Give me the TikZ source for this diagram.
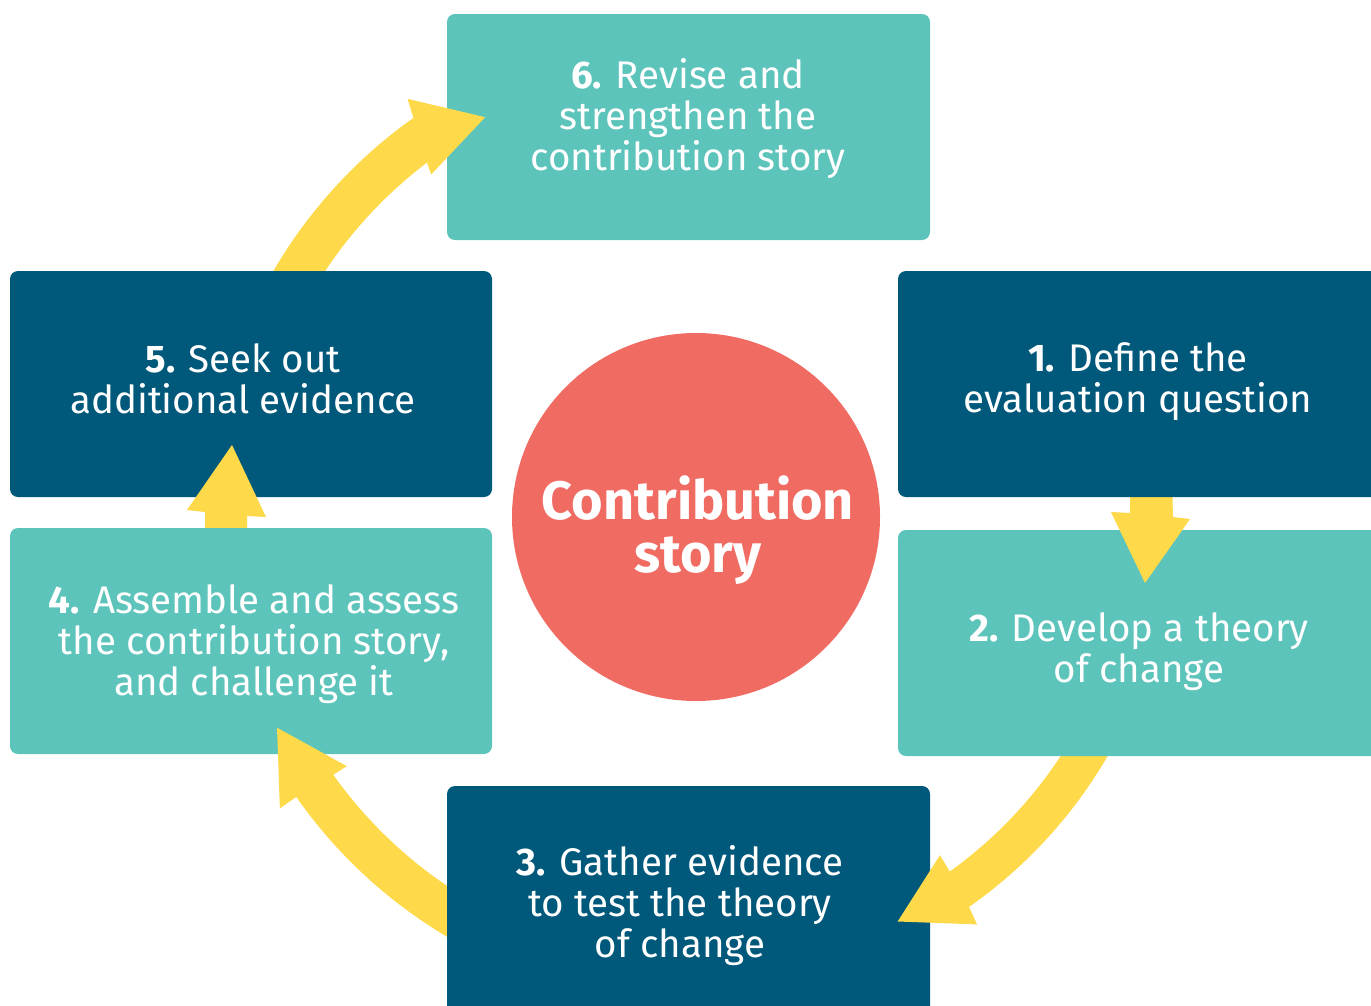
\documentclass[tikz,border=0pt]{standalone}
\usepackage{fontspec}
\setmainfont{Fira Sans}
\definecolor{tealbox}{HTML}{5DC4BB}
\definecolor{navybox}{HTML}{00587B}
\definecolor{coralc}{HTML}{F06B62}
\definecolor{yelarrow}{HTML}{FEDA4B}
\begin{document}
\begin{tikzpicture}[x=1pt,y=-1pt,
  boxshape/.style={rectangle,rounded corners=8pt,inner sep=0pt,outer sep=0pt},
  tealstep/.style={boxshape,fill=tealbox},
  navystep/.style={boxshape,fill=navybox},
  steptext/.style={text=white,align=center,inner sep=0pt,font=\fontsize{38.5}{41}\selectfont},
  bigarrow/.style={fill=yelarrow}]
\useasboundingbox (0,0) rectangle (1371,1005);
\clip (0,0) rectangle (1371,1005);
\coordinate (C) at (696,517);
% box 6
\node[tealstep,minimum width=483pt,minimum height=226pt] (b6) at (688.5,127) {};
% arrow 5 -> 6
\begin{scope}[shift={(C)}]
\fill[bigarrow] (205:489) arc[start angle=205,end angle=234.7,radius=489] -- (235.4:508) -- (242.2:452) -- (232.3:433) -- (232.8:445) arc[start angle=232.8,end angle=205,radius=445] -- cycle;
\end{scope}
% box 5
\node[navystep,minimum width=482pt,minimum height=226pt] (b5) at (251,384) {};
% arrow 4 -> 5
\fill[bigarrow] (205,540) -- (205,512) -- (187,510) -- (232,445) -- (266,517) -- (247,516) -- (247,540) -- cycle;
% box 4
\node[tealstep,minimum width=482pt,minimum height=226pt] (b4) at (251,641) {};
% arrow 3 -> 4
\begin{scope}[shift={(C)}]
\fill[bigarrow] (115:488) arc[start angle=115,end angle=145,radius=488] -- (145:508) -- (153.3:469) -- (144.5:429) -- (144.6:445) arc[start angle=144.6,end angle=115,radius=445] -- cycle;
\end{scope}
% box 3
\node[navystep,minimum width=483pt,minimum height=240pt] (b3) at (688.5,906) {};
% arrow 2 -> 3
\begin{scope}[shift={(C)}]
\fill[bigarrow] (25:476) arc[start angle=25,end angle=55,radius=476] -- (55.4:495) -- (63.5:452) -- (54.2:417) -- (54.4:436) arc[start angle=54.4,end angle=25,radius=436] -- cycle;
\end{scope}
% box 2
\node[tealstep,minimum width=492pt,minimum height=226pt] (b2) at (1144,643) {};
% arrow 1 -> 2
\fill[bigarrow] (1130,480) -- (1130,513) -- (1111,512) -- (1145,583) -- (1190,519) -- (1173,517) -- (1172,480) -- cycle;
% box 1
\node[navystep,minimum width=492pt,minimum height=226pt] (b1) at (1144,384) {};
% centre circle
\node[circle,fill=coralc,minimum size=368pt,inner sep=0pt] (circ) at (C) {};
% texts
\node[steptext] (t6) at (688,119) {\textbf{6.} Revise and\\strengthen the\\contribution story};
\node[steptext] (t5) at (243,379) {\textbf{5.} Seek out\\additional evidence};
\node[steptext] (t1) at (1138,382) {\textbf{1.} Define the\\evaluation question};
\node[steptext] (t4) at (254,644) {\textbf{4.} Assemble and assess\\the contribution story,\\and challenge it};
\node[steptext] (t2) at (1139,652) {\textbf{2.} Develop a theory\\of change};
\node[steptext] (t3) at (680,906) {\textbf{3.} Gather evidence\\to test the theory\\of change};
\node[text=white,align=center,inner sep=0pt,font=\fontsize{54}{53}\bfseries] (tc) at (698,530) {Contribution\\story};
\end{tikzpicture}
\end{document}
